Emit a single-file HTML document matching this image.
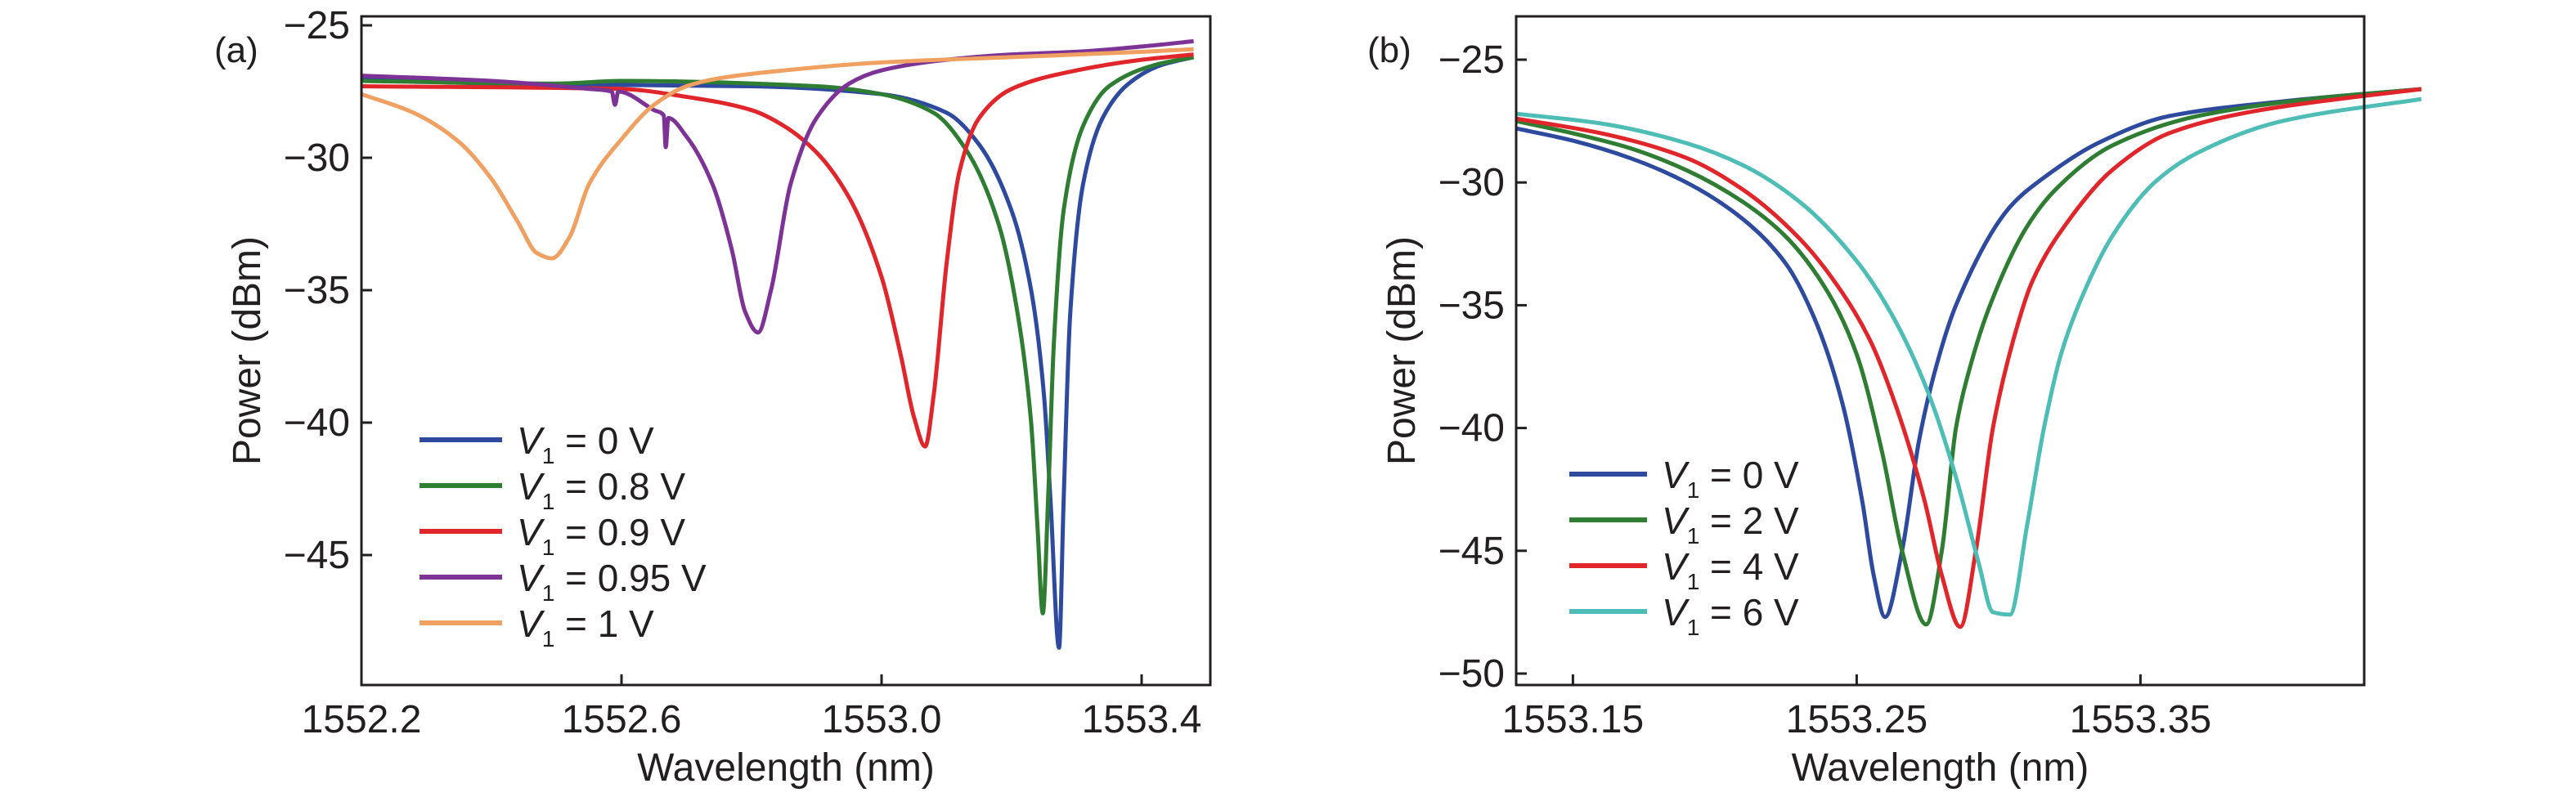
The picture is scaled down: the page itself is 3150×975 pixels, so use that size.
<!DOCTYPE html>
<html><head><meta charset="utf-8"><style>
html,body{margin:0;padding:0;background:#fff}
svg text{font-family:"Liberation Sans",sans-serif;fill:#231f20}
</style></head><body>
<svg id="c" width="3150" height="970" xmlns="http://www.w3.org/2000/svg"></svg>
<script>
const aTicksX=[1552.2,1552.6,1553.0,1553.4];
const aTicksY=[-25,-30,-35,-40,-45];
const aSuffix=[" = 0 V"," = 0.8 V"," = 0.9 V"," = 0.95 V"," = 1 V"];
const aColors=["#2e4a9e","#2e7d32","#e0262b","#7d3296","#f0a060"];
const aBlue=[[1552.2,-27.0],[1552.4,-27.2],[1552.8,-27.3],[1553.0,-27.6],[1553.1,-28.3],[1553.15,-29.5],[1553.2,-32],[1553.23,-35],[1553.25,-39],[1553.26,-43],[1553.273,-48.5],[1553.28,-43],[1553.29,-36],[1553.31,-31],[1553.34,-28.5],[1553.38,-27.2],[1553.43,-26.5],[1553.48,-26.2]];
const aGreen=[[1552.2,-27.1],[1552.5,-27.2],[1552.6,-27.1],[1552.9,-27.3],[1553.0,-27.6],[1553.08,-28.3],[1553.13,-29.7],[1553.18,-32.5],[1553.21,-36],[1553.23,-40],[1553.24,-44],[1553.248,-47.2],[1553.256,-43],[1553.265,-37],[1553.28,-32],[1553.31,-28.8],[1553.35,-27.3],[1553.42,-26.5],[1553.48,-26.2]];
const aRed=[[1552.2,-27.3],[1552.6,-27.4],[1552.7,-27.7],[1552.8,-28.2],[1552.85,-28.8],[1552.9,-29.8],[1552.95,-31.5],[1553.0,-34.5],[1553.03,-37.5],[1553.05,-39.8],[1553.067,-40.9],[1553.08,-39],[1553.1,-34],[1553.12,-30.5],[1553.15,-28.5],[1553.2,-27.4],[1553.3,-26.7],[1553.4,-26.3],[1553.48,-26.1]];
const aPurple=[[1552.2,-26.9],[1552.4,-27.1],[1552.55,-27.4],[1552.585,-27.5],[1552.59,-28.0],[1552.595,-27.5],[1552.65,-28.2],[1552.665,-28.4],[1552.668,-29.6],[1552.672,-28.5],[1552.7,-29.2],[1552.74,-31],[1552.77,-33.5],[1552.79,-35.8],[1552.81,-36.6],[1552.83,-35],[1552.86,-31],[1552.9,-28.5],[1552.95,-27.2],[1553.0,-26.7],[1553.1,-26.3],[1553.2,-26.1],[1553.3,-26.0],[1553.4,-25.8],[1553.48,-25.6]];
const aOrange=[[1552.2,-27.6],[1552.28,-28.3],[1552.35,-29.4],[1552.4,-30.8],[1552.44,-32.4],[1552.47,-33.6],[1552.493,-33.8],[1552.52,-33],[1552.55,-31],[1552.6,-29.3],[1552.65,-28],[1552.7,-27.3],[1552.75,-27],[1552.85,-26.7],[1553.0,-26.4],[1553.2,-26.2],[1553.4,-26.0],[1553.48,-25.9]];
const bTicksX=[1553.15,1553.25,1553.35];
const bTicksY=[-25,-30,-35,-40,-45,-50];
const bSuffix=[" = 0 V"," = 2 V"," = 4 V"," = 6 V"];
const bColors=["#2e4a9e","#2e7d32","#e0262b","#4dbdb5"];
const bBlue=[[1553.13,-27.8],[1553.15,-28.3],[1553.17,-29],[1553.19,-30],[1553.21,-31.5],[1553.225,-33.3],[1553.235,-35.5],[1553.245,-39],[1553.252,-43],[1553.256,-46],[1553.26,-47.7],[1553.266,-45],[1553.272,-40.5],[1553.278,-37.5],[1553.285,-35],[1553.304,-31],[1553.316,-29.8],[1553.335,-28.4],[1553.36,-27.3],[1553.4,-26.7],[1553.449,-26.2]];
const bGreen=[[1553.13,-27.5],[1553.15,-28],[1553.17,-28.6],[1553.19,-29.5],[1553.21,-30.8],[1553.225,-32.2],[1553.24,-34.5],[1553.25,-37],[1553.259,-41],[1553.266,-45],[1553.2745,-48],[1553.28,-45],[1553.285,-40],[1553.29,-37.5],[1553.297,-35],[1553.31,-31.8],[1553.32,-30.3],[1553.34,-28.5],[1553.37,-27.3],[1553.41,-26.6],[1553.449,-26.2]];
const bRed=[[1553.13,-27.4],[1553.16,-28],[1553.19,-29],[1553.21,-30.3],[1553.23,-32.3],[1553.245,-34.5],[1553.255,-36.5],[1553.265,-39.5],[1553.274,-43],[1553.28,-46],[1553.2865,-48.1],[1553.292,-45],[1553.298,-40],[1553.305,-36.5],[1553.312,-34],[1553.325,-31.5],[1553.34,-29.5],[1553.36,-28],[1553.39,-27.1],[1553.42,-26.6],[1553.449,-26.2]];
const bCyan=[[1553.13,-27.2],[1553.16,-27.6],[1553.19,-28.4],[1553.21,-29.3],[1553.23,-30.8],[1553.25,-33.2],[1553.262,-35.3],[1553.275,-38.5],[1553.285,-42],[1553.293,-45.5],[1553.298,-47.5],[1553.304,-47.6],[1553.31,-44],[1553.316,-40],[1553.322,-37],[1553.33,-34.5],[1553.34,-32.2],[1553.355,-30],[1553.37,-28.8],[1553.4,-27.5],[1553.449,-26.6]];

const NS="http://www.w3.org/2000/svg";
const svg=document.getElementById('c');
function mk(tag,attrs,parent){const e=document.createElementNS(NS,tag);for(const k in attrs)e.setAttribute(k,attrs[k]);(parent||svg).appendChild(e);return e;}

function monoPath(P){
  const n=P.length;if(n<2)return '';
  const dx=[],m=[];for(let i=0;i<n-1;i++){dx.push(P[i+1][0]-P[i][0]);m.push((P[i+1][1]-P[i][1])/dx[i]);}
  const t=[m[0]];
  for(let i=1;i<n-1;i++){ if(m[i-1]*m[i]<=0)t.push(0); else {const w1=2*dx[i]+dx[i-1],w2=dx[i]+2*dx[i-1];t.push((w1+w2)/(w1/m[i-1]+w2/m[i]));}}
  t.push(m[n-2]);
  let d='M'+P[0][0].toFixed(1)+' '+P[0][1].toFixed(1);
  for(let i=0;i<n-1;i++){const h=dx[i]/3;
    d+=` C${(P[i][0]+h).toFixed(1)} ${(P[i][1]+t[i]*h).toFixed(1)} ${(P[i+1][0]-h).toFixed(1)} ${(P[i+1][1]-t[i+1]*h).toFixed(1)} ${P[i+1][0].toFixed(1)} ${P[i+1][1].toFixed(1)}`;}
  return d;
}

function panel(cfg){
  const g=mk('g',{});
  
  
  const X=v=>cfg.L+(v-cfg.x0)*(cfg.R-cfg.L)/(cfg.x1-cfg.x0);
  const Y=v=>cfg.T+(cfg.y0-v)*(cfg.B-cfg.T)/(cfg.y0-cfg.y1);
  cfg.series.forEach((s,i)=>{
    const d=monoPath(s.map(p=>[X(p[0]),Y(p[1])]));
    const p=mk('path',{d:d,fill:'none',stroke:cfg.colors[i],'stroke-width':5,'stroke-linejoin':'round'},g);
    
    
  });
  const fr=mk('rect',{x:cfg.L,y:cfg.T,width:cfg.R-cfg.L,height:cfg.B-cfg.T,fill:'none',stroke:'#231f20','stroke-width':3},g);
  
  
  cfg.tx.forEach(v=>{
    mk('line',{x1:X(v),x2:X(v),y1:cfg.B,y2:cfg.B-13,stroke:'#231f20','stroke-width':3},g);
    const t=mk('text',{x:X(v),y:896,'font-size':48,'text-anchor':'middle'},g);
    t.textContent=v.toFixed(cfg.xd);
    
    
  });
  cfg.ty.forEach(v=>{
    mk('line',{x1:cfg.L,x2:cfg.L+13,y1:Y(v),y2:Y(v),stroke:'#231f20','stroke-width':3},g);
    const t=mk('text',{x:cfg.L-14,y:Y(v)+16,'font-size':48,'text-anchor':'end'},g);
    t.textContent='\u2212'+Math.abs(v);
    
    
  });
  const xt=mk('text',{x:(cfg.L+cfg.R)/2,y:955,'font-size':48,'text-anchor':'middle'},g);
  xt.textContent='Wavelength (nm)';
  
  
  const yt=mk('text',{x:0,y:0,'font-size':48,'text-anchor':'middle',transform:`translate(${cfg.ytx},429) rotate(-90)`},g);
  yt.textContent='Power (dBm)';
  
  
  const pl=mk('text',{x:cfg.plx,y:76,'font-size':44},g);
  pl.textContent=cfg.label;
  
  
  cfg.suffix.forEach((s,i)=>{
    const y=cfg.ly+i*56;
    const lg=mk('g',{},g);
    
    
    mk('line',{x1:cfg.lx1,x2:cfg.lx2,y1:y,y2:y,stroke:cfg.colors[i],'stroke-width':6},lg);
    const t=mk('text',{x:cfg.lx2+18,y:y+17,'font-size':46},lg);
    const a=mk('tspan',{'font-style':'italic'},t);a.textContent='V';
    const b=mk('tspan',{'font-size':28,dy:12},t);b.textContent='1';
    const c=mk('tspan',{dy:-12},t);c.textContent=s;
  });
}
panel({name:'panel-a',L:442,R:1480,T:20,B:838,x0:1552.2,x1:1552.2+1038/795,y0:-25+11/32.4,y1:-25-807/32.4,
  series:[aBlue,aGreen,aRed,aPurple,aOrange],colors:aColors,keys:['0v','0-8v','0-9v','0-95v','1v'],
  tx:aTicksX,ty:aTicksY,xd:1,ytx:318,plx:262,label:'(a)',suffix:aSuffix,lx1:513,lx2:614,ly:538});
panel({name:'panel-b',L:1854,R:2891,T:20,B:838,x0:1553.13,x1:1553.13+1037/3470,y0:-25+53/30.04,y1:-25-765/30.04,
  series:[bBlue,bGreen,bRed,bCyan],colors:bColors,keys:['0v','2v','4v','6v'],
  tx:bTicksX,ty:bTicksY,xd:2,ytx:1730,plx:1672,label:'(b)',suffix:bSuffix,lx1:1919,lx2:2014,ly:580});
</script>
</body></html>
